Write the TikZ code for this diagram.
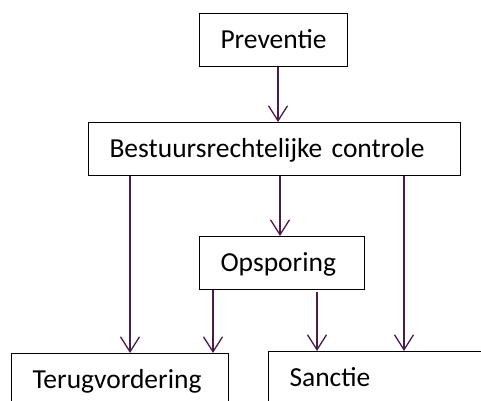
\documentclass[tikz,border=0pt]{standalone}
\usepackage{fontspec}
\setmainfont{Carlito}
\usetikzlibrary{arrows.meta}
\definecolor{arrowc}{RGB}{75,28,75}
\tikzset{
  box/.style={draw=black, line width=1pt, anchor=north west, inner xsep=21pt, inner ysep=0pt,
    minimum height=53pt, text height=19pt, text depth=2pt, align=left,
    font=\fontsize{27.5}{32}\selectfont},
  arr/.style={draw=arrowc, line width=1.3pt, -{Straight Barb[length=15pt, width=19pt, line width=1.3pt]}},
}
\begin{document}
\begin{tikzpicture}[x=1pt, y=-1pt]
\useasboundingbox (0,0) rectangle (481,400);
\node[box, text width=106pt] (prev) at (199,13) {Preventie};
\node[box, text width=330pt] (best) at (88,122) {Bestuursrechtelijke controle};
\node[box, text width=123pt] (ops) at (199,236) {Opsporing};
\node[box, text width=175pt] (terug) at (11,353) {Terugvordering};
\node[box, text width=175pt] (sanc) at (268,351) {Sanctie};
\draw[arr] (278,0 |- prev.south) -- (278,0 |- best.north);
\draw[arr] (280,0 |- best.south) -- (280,0 |- ops.north);
\draw[arr] (130,0 |- best.south) -- (130,0 |- terug.north);
\draw[arr] (404,0 |- best.south) -- (404,0 |- sanc.north);
\draw[arr] (213,0 |- ops.south) -- (213,0 |- terug.north);
\draw[arr] (317,292) -- (317,0 |- sanc.north);
\end{tikzpicture}
\end{document}
